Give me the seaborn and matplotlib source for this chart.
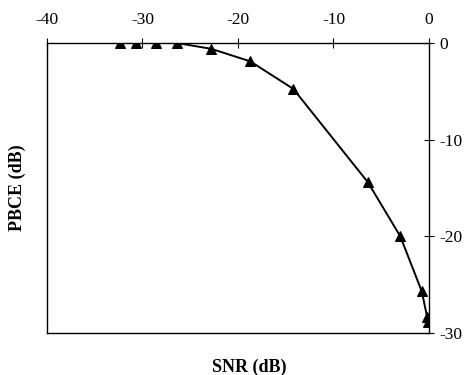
import matplotlib
matplotlib.use("Agg")
import matplotlib.pyplot as plt
import seaborn as sns
import pandas as pd

# values
snr_db = [-32.3, -30.7, -28.6, -26.4, -22.8, -18.7, -14.2, -6.4, -3.0, -0.75, -0.2, -0.1]
pbce_db = [0.0, 0.0, 0.0, 0.0, -0.6, -1.9, -4.75, -14.4, -20.0, -25.7, -28.3, -28.9]

x_ticks = [-40, -30, -20, -10, 0]
y_ticks = [0, -10, -20, -30]

df = pd.DataFrame({"SNR (dB)": snr_db, "PBCE (dB)": pbce_db})

sns.set_style("white")
plt.rcParams["font.family"] = ["Liberation Serif", "DejaVu Serif"]
plt.rcParams["axes.unicode_minus"] = False
plt.rcParams["text.color"] = "black"
plt.rcParams["axes.labelcolor"] = "black"

fig = plt.figure(figsize=(4.65, 3.75), dpi=100)
ax = fig.add_axes([0.101, 0.112, 0.8215, 0.7733])

sns.lineplot(data=df, x="SNR (dB)", y="PBCE (dB)", ax=ax, color="black",
             linewidth=1.4, marker="^", markersize=7.5, markeredgecolor="black",
             sort=False, estimator=None)

ax.set_xlim(-40, 0)
ax.set_ylim(-30, 0)
ax.set_xticks(x_ticks)
ax.set_yticks(y_ticks)

ax.xaxis.tick_top()
ax.yaxis.tick_right()
ax.tick_params(axis="both", direction="inout", length=7, width=0.8,
               labelsize=12.5, colors="black")
ax.tick_params(axis="x", pad=7)
ax.tick_params(axis="y", pad=4)

for s in ax.spines.values():
    s.set_color("black")
    s.set_linewidth(1.0)

ax.set_xlabel("SNR (dB)", fontsize=13, fontweight="bold", color="black")
ax.set_ylabel("PBCE (dB)", fontsize=13, fontweight="bold", color="black")
ax.xaxis.set_label_position("bottom")
ax.yaxis.set_label_position("left")
ax.xaxis.set_label_coords(0.53, -0.09)
ax.yaxis.set_label_coords(-0.055, 0.5)

fig.savefig("out.png", dpi=100)
